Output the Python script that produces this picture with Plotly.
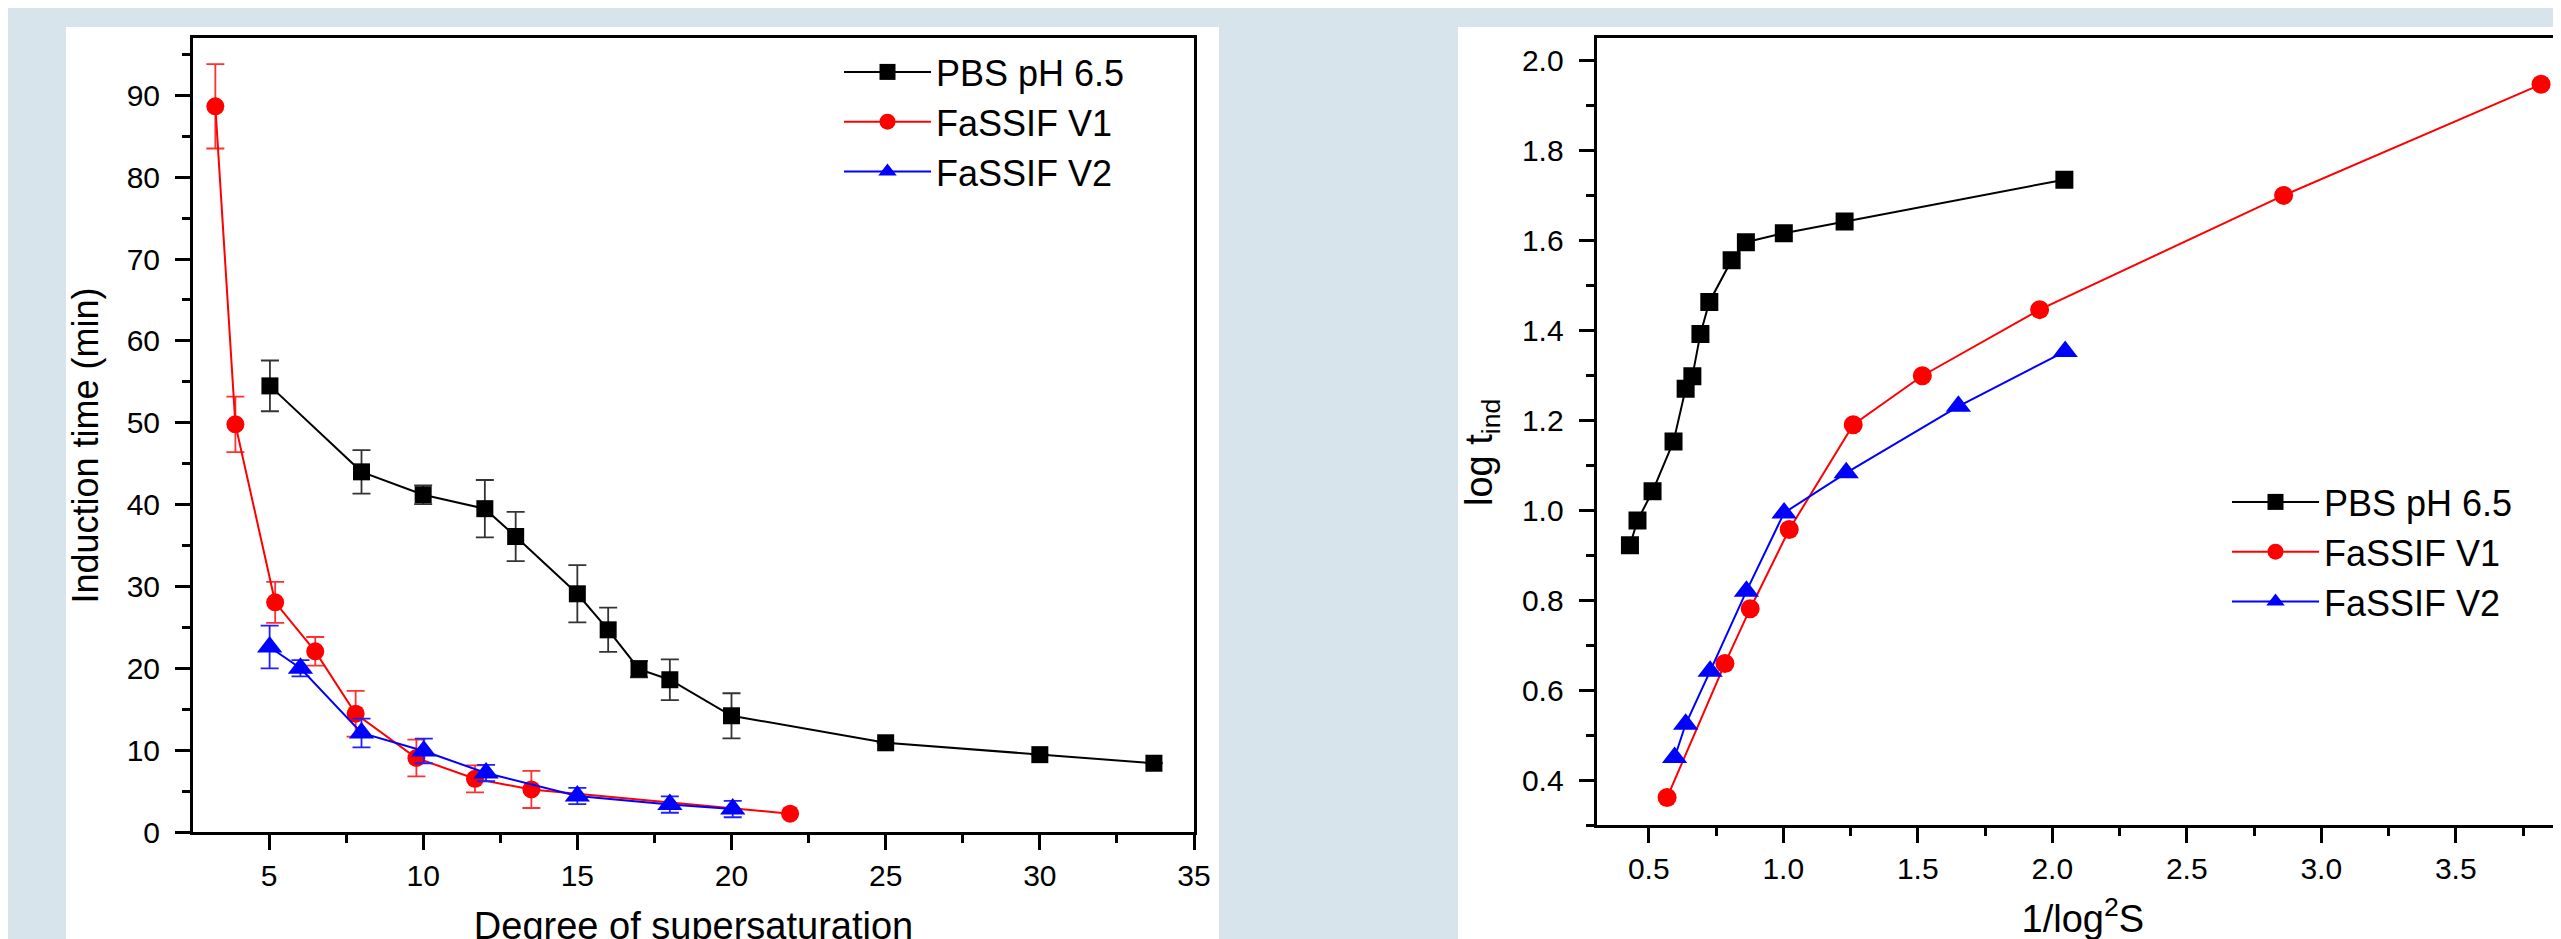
import plotly.graph_objects as go

# ---------------- data ----------------
series_names = ["PBS pH 6.5", "FaSSIF V1", "FaSSIF V2"]
series_colors = ["black", "red", "blue"]
errbar_colors = ["#333333", "#ff3030", "#2020ff"]
series_symbols = ["square", "circle", "triangle-up"]

# Left panel: induction time (min) vs degree of supersaturation
pbs_S = [5.03, 8.0, 10.0, 12.0, 13.0, 15.0, 16.0, 17.0, 18.0, 20.0, 25.0, 30.0, 33.7]
pbs_t = [54.5, 44.0, 41.2, 39.5, 36.1, 29.1, 24.7, 19.9, 18.6, 14.2, 10.9, 9.45, 8.4]
pbs_err = [3.1, 2.65, 1.15, 3.5, 3.0, 3.5, 2.7, 1.0, 2.5, 2.75, 0, 0, 0]

v1_S = [3.26, 3.91, 5.2, 6.5, 7.81, 9.78, 11.68, 13.51, 21.9]
v1_t = [88.65, 49.8, 28.06, 22.07, 14.45, 9.04, 6.5, 5.2, 2.24]
v1_err = [5.15, 3.4, 2.5, 1.75, 2.8, 2.25, 1.65, 2.27, 0]

v2_S = [5.02, 6.02, 8.0, 10.02, 12.04, 15.0, 18.0, 20.04]
v2_t = [22.6, 20.0, 12.1, 9.9, 7.2, 4.4, 3.35, 2.8]
v2_err = [2.6, 1.0, 1.75, 1.5, 1.0, 1.0, 1.0, 1.0]

# Right panel: log t_ind vs 1/log^2 S
pbs_invlog2S = [0.430, 0.458, 0.514, 0.592, 0.637, 0.662, 0.692, 0.725, 0.808, 0.861, 1.002, 1.228, 2.045]
pbs_logt = [0.922, 0.977, 1.042, 1.153, 1.270, 1.298, 1.392, 1.463, 1.556, 1.596, 1.616, 1.642, 1.735]

v1_invlog2S = [0.568, 0.783, 0.877, 1.022, 1.260, 1.517, 1.953, 2.860, 3.817]
v1_logt = [0.361, 0.659, 0.781, 0.957, 1.190, 1.299, 1.446, 1.700, 1.947]

v2_invlog2S = [0.596, 0.637, 0.728, 0.863, 1.003, 1.234, 1.651, 2.048]
v2_logt = [0.450, 0.524, 0.642, 0.820, 0.994, 1.083, 1.231, 1.353]

left_x_title = "Degree of supersaturation"
left_y_title = "Induction time (min)"
right_x_title = "1/log<sup>2</sup>S"
right_y_title = "log t<sub>ind</sub>"

# ---------------- styling ----------------
W, H = 2561, 939
FONT = "Liberation Sans, Arial, Helvetica, sans-serif"
BG = "#d8e4eb"
left_sizes = [17, 18, 22]
right_sizes = [18, 19, 22]

fig = go.Figure()

left_sets = [(pbs_S, pbs_t, pbs_err), (v1_S, v1_t, v1_err), (v2_S, v2_t, v2_err)]
for i, (xs, ys, es) in enumerate(left_sets):
    fig.add_trace(go.Scatter(
        x=xs, y=ys, mode="lines+markers", name=series_names[i],
        line=dict(color=series_colors[i], width=2),
        marker=dict(symbol=series_symbols[i], size=left_sizes[i], color=series_colors[i],
                    line=dict(width=0)),
        error_y=dict(type="data", array=es, visible=True, color=errbar_colors[i],
                     thickness=1.8, width=9),
        xaxis="x", yaxis="y", legend="legend", cliponaxis=False,
    ))

right_sets = [(pbs_invlog2S, pbs_logt), (v1_invlog2S, v1_logt), (v2_invlog2S, v2_logt)]
for i, (xs, ys) in enumerate(right_sets):
    fig.add_trace(go.Scatter(
        x=xs, y=ys, mode="lines+markers", name=series_names[i],
        line=dict(color=series_colors[i], width=2),
        marker=dict(symbol=series_symbols[i], size=right_sizes[i], color=series_colors[i],
                    line=dict(width=0)),
        xaxis="x2", yaxis="y2", legend="legend2",
    ))

axis_common = dict(
    showline=True, linewidth=3, linecolor="black",
    ticks="outside", ticklen=15, tickwidth=3, tickcolor="black",
    showgrid=False, zeroline=False, automargin=False,
    tickfont=dict(size=30, color="black", family=FONT),
)

def px_x(p):
    return p / W

def px_y(p):
    return (H - p) / H

legend_common = dict(xanchor="left", yanchor="top", bgcolor="rgba(0,0,0,0)",
                     borderwidth=0, itemwidth=87, tracegroupgap=0,
                     font=dict(size=36, family=FONT, color="black"))

fig.update_layout(
    width=W, height=H,
    margin=dict(l=0, r=0, t=0, b=0),
    paper_bgcolor=BG, plot_bgcolor="white",
    font=dict(family=FONT, size=30, color="black"),
    showlegend=True,
    xaxis=dict(**axis_common, domain=[px_x(185), px_x(1186)], range=[2.535, 35],
               tick0=0, dtick=5, mirror=True, anchor="y",
               minor=dict(dtick=2.5, ticks="outside", ticklen=8, tickwidth=3, tickcolor="black"),
               title=dict(text=left_x_title, font=dict(size=38, family=FONT), standoff=22)),
    yaxis=dict(**axis_common, domain=[px_y(824), px_y(30)], range=[0, 97],
               tick0=0, dtick=10, mirror=True, anchor="x", ticklabelstandoff=9,
               minor=dict(dtick=5, ticks="outside", ticklen=8, tickwidth=3, tickcolor="black")),
    xaxis2=dict(**axis_common, domain=[px_x(1588.6), 1.0], range=[0.306, 3.921],
                tick0=0, dtick=0.5, tickformat=".1f", mirror=True, anchor="y2",
                minor=dict(dtick=0.25, ticks="outside", ticklen=8, tickwidth=3, tickcolor="black"),
                title=dict(text=right_x_title, font=dict(size=38, family=FONT), standoff=22)),
    yaxis2=dict(**axis_common, domain=[px_y(817), px_y(30)], range=[0.3, 2.05],
                tick0=0, dtick=0.2, tickformat=".1f", mirror=False, anchor="x2",
                ticklabelstandoff=9,
                minor=dict(dtick=0.1, ticks="outside", ticklen=8, tickwidth=3, tickcolor="black")),
    legend=dict(x=px_x(831), y=px_y(34), **legend_common),
    legend2=dict(x=px_x(2219), y=px_y(464), **legend_common),
    shapes=[
        dict(type="rect", xref="paper", yref="paper", x0=px_x(58), x1=px_x(1211),
             y0=0, y1=px_y(19), fillcolor="white", line=dict(width=0), layer="below"),
        dict(type="rect", xref="paper", yref="paper", x0=px_x(1450), x1=1.0,
             y0=0, y1=px_y(19), fillcolor="white", line=dict(width=0), layer="below"),
    ],
    annotations=[
        dict(text=left_y_title, xref="paper", yref="paper", x=px_x(77), y=px_y(437.5),
             textangle=-90, showarrow=False, xanchor="center", yanchor="middle",
             font=dict(size=36, family=FONT, color="black")),
        dict(text=right_y_title, xref="paper", yref="paper", x=px_x(1474), y=px_y(445),
             textangle=-90, showarrow=False, xanchor="center", yanchor="middle",
             font=dict(size=38, family=FONT, color="black")),
    ],
)

fig.write_html("out.html", config={"displayModeBar": False})
